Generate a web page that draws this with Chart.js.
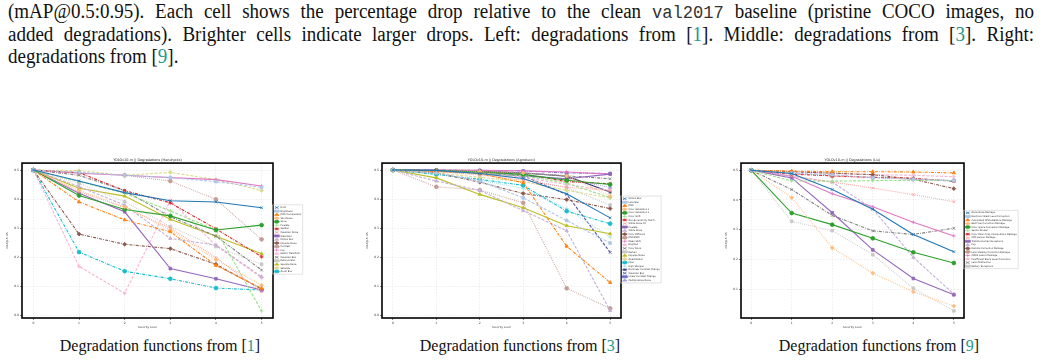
<!DOCTYPE html>
<html>
<head>
<meta charset="utf-8">
<script src="https://cdn.jsdelivr.net/npm/chart.js@4.4.1/dist/chart.umd.min.js"></script>
<style>
  body { margin: 0; width: 1041px; height: 360px; background: #fff; position: relative; overflow: hidden;
         font-family: "Liberation Serif", "Times New Roman", serif; color: #111; }
  .ln { position: absolute; left: 8px; width: 1080px; font-size: 20px; line-height: 22.5px;
        text-align: justify; text-align-last: justify; transform: scaleX(0.95); transform-origin: 0 0; }
  .ln.last { text-align-last: left; }
  .tt { font-family: "Liberation Mono", "DejaVu Sans Mono", monospace; font-size: 18px; color: #333; }
  .ref { color: #23998a; }
  .cap { position: absolute; top: 337px; width: 300px; margin-left: -150px; text-align: center;
         font-size: 16px; line-height: 18px; }
  .fig { position: absolute; top: 150px; }
</style>
</head>
<body>
<div class="ln" style="top:0px">(mAP@0.5:0.95). Each cell shows the percentage drop relative to the clean <span class="tt">val2017</span> baseline (pristine COCO images, no</div>
<div class="ln" style="top:22.5px">added degradations). Brighter cells indicate larger drops. Left: degradations from [<span class="ref">1</span>]. Middle: degradations from [<span class="ref">3</span>]. Right:</div>
<div class="ln last" style="top:45px">degradations from [<span class="ref">9</span>].</div>

<div class="fig" style="left:6px"><canvas id="hendrycks" width="305" height="180"></canvas></div>
<div class="fig" style="left:366px"><canvas id="agnolucci" width="315" height="180"></canvas></div>
<div class="fig" style="left:725px"><canvas id="liu" width="316" height="180"></canvas></div>

<div class="cap" style="left:160px">Degradation functions from [<span class="ref">1</span>]</div>
<div class="cap" style="left:520px">Degradation functions from [<span class="ref">3</span>]</div>
<div class="cap" style="left:879px">Degradation functions from [<span class="ref">9</span>]</div>

<script>
// severity levels on the x axis
const severity = [0, 1, 2, 3, 4, 5]
const yTicksFull = [0.0, 0.1, 0.2, 0.3, 0.4, 0.5]
const yTicksLiu = [0.1, 0.2, 0.3, 0.4, 0.5]

// degradations from Hendrycks
const hendrycksNames = ['Frost', 'Brightness', 'JPEG Compression', 'Shot Noise', 'Snow', 'Pixelate', 'Spatter',
  'Gaussian Noise', 'Glass Blur', 'Motion Blur', 'Impulse Noise', 'Contrast', 'Fog', 'Elastic Transform',
  'Gaussian Blur', 'Defocus Blur', 'Speckle Noise', 'Saturate', 'Zoom Blur']
const hendrycksValues = [
  [0.5, 0.462, 0.422, 0.394, 0.390, 0.370],
  [0.5, 0.492, 0.482, 0.474, 0.460, 0.440],
  [0.5, 0.390, 0.328, 0.287, 0.171, 0.092],
  [0.5, 0.430, 0.373, 0.293, 0.190, 0.103],
  [0.5, 0.412, 0.364, 0.342, 0.293, 0.310],
  [0.5, 0.460, 0.420, 0.359, 0.293, 0.014],
  [0.5, 0.491, 0.429, 0.387, 0.297, 0.201],
  [0.5, 0.425, 0.371, 0.300, 0.198, 0.080],
  [0.5, 0.420, 0.356, 0.160, 0.125, 0.086],
  [0.5, 0.443, 0.379, 0.264, 0.241, 0.132],
  [0.5, 0.279, 0.244, 0.229, 0.175, 0.089],
  [0.5, 0.490, 0.482, 0.462, 0.399, 0.261],
  [0.5, 0.489, 0.482, 0.474, 0.467, 0.445],
  [0.5, 0.168, 0.075, 0.395, 0.240, 0.128],
  [0.5, 0.482, 0.429, 0.339, 0.272, 0.155],
  [0.5, 0.454, 0.391, 0.305, 0.236, 0.175],
  [0.5, 0.437, 0.410, 0.330, 0.272, 0.211],
  [0.5, 0.498, 0.482, 0.492, 0.467, 0.429],
  [0.5, 0.217, 0.151, 0.125, 0.093, 0.086]
]

// degradations from Agnolucci
const agnolucciNames = ['Motion Blur', 'Lens Blur', 'JPEG', 'Color Saturation 1', 'Color Saturation 2', 'Color Shift',
  'Non-Eccentricity Patch', 'White Noise CC', 'Pixelate', 'White Noise', 'Color Diffusion', 'JPEG2000', 'Mean Shift',
  'Brighten', 'Color Block', 'Darken', 'Impulse Noise', 'Quantization', 'Jitter', 'High Sharpen',
  'Nonlinear Contrast Change', 'Gaussian Blur', 'Linear Contrast Change', 'Multiplicative Noise']
const agnolucciValues = [
  [0.5, 0.499, 0.488, 0.471, 0.418, 0.335],
  [0.5, 0.490, 0.462, 0.404, 0.326, 0.248],
  [0.5, 0.495, 0.488, 0.456, 0.237, 0.112],
  [0.5, 0.498, 0.495, 0.490, 0.480, 0.410],
  [0.5, 0.498, 0.494, 0.485, 0.465, 0.450],
  [0.5, 0.497, 0.490, 0.480, 0.455, 0.405],
  [0.5, 0.498, 0.494, 0.486, 0.460, 0.453],
  [0.5, 0.495, 0.483, 0.465, 0.440, 0.430],
  [0.5, 0.497, 0.490, 0.480, 0.470, 0.486],
  [0.5, 0.462, 0.430, 0.360, 0.291, 0.015],
  [0.5, 0.490, 0.458, 0.419, 0.398, 0.367],
  [0.5, 0.442, 0.431, 0.387, 0.092, 0.023],
  [0.5, 0.500, 0.499, 0.497, 0.493, 0.486],
  [0.5, 0.496, 0.490, 0.475, 0.450, 0.430],
  [0.5, 0.499, 0.497, 0.490, 0.480, 0.470],
  [0.5, 0.495, 0.485, 0.470, 0.440, 0.379],
  [0.5, 0.473, 0.416, 0.370, 0.308, 0.280],
  [0.5, 0.490, 0.475, 0.460, 0.430, 0.404],
  [0.5, 0.485, 0.468, 0.447, 0.358, 0.315],
  [0.5, 0.485, 0.465, 0.437, 0.367, 0.269],
  [0.5, 0.499, 0.496, 0.490, 0.479, 0.424],
  [0.5, 0.498, 0.494, 0.480, 0.416, 0.216],
  [0.5, 0.500, 0.499, 0.497, 0.490, 0.488],
  [0.5, 0.497, 0.490, 0.480, 0.470, 0.440]
]

// degradations from Liu
const liuNames = ['Noise Node Damage', 'Electronic Black Level Corruption', 'Automated White Balance Damage',
  'Bad Pixel Correction Damage', 'Color Space Conversion Damage', 'Sensor Broken',
  'Color Filter Array Interpolation Damage', 'CCD Sensor Damage', 'Transfer Human Exceptions', 'Fog',
  'Gamma Correction Damage', 'Lens Shading Correction Damage', 'CMOS Sensor Damage',
  'Insufficient Black Level Correction', 'Lens Obstruction', 'Battery Exceptions']
const liuValues = [
  [0.5, 0.489, 0.435, 0.369, 0.284, 0.226],
  [0.5, 0.490, 0.485, 0.475, 0.470, 0.465],
  [0.5, 0.497, 0.495, 0.495, 0.494, 0.491],
  [0.5, 0.408, 0.239, 0.154, 0.091, 0.043],
  [0.5, 0.356, 0.317, 0.271, 0.224, 0.188],
  [0.5, 0.464, 0.463, 0.465, 0.466, 0.465],
  [0.5, 0.487, 0.481, 0.476, 0.473, 0.463],
  [0.5, 0.480, 0.460, 0.440, 0.418, 0.394],
  [0.5, 0.474, 0.357, 0.232, 0.136, 0.081],
  [0.5, 0.480, 0.460, 0.370, 0.207, 0.083],
  [0.5, 0.495, 0.490, 0.485, 0.470, 0.438],
  [0.5, 0.490, 0.480, 0.475, 0.470, 0.465],
  [0.5, 0.480, 0.421, 0.377, 0.325, 0.279],
  [0.5, 0.495, 0.490, 0.485, 0.483, 0.478],
  [0.5, 0.435, 0.348, 0.296, 0.284, 0.305],
  [0.5, 0.328, 0.297, 0.216, 0.103, 0.027]
]

const tab20 = ['#1f77b4', '#aec7e8', '#ff7f0e', '#ffbb78', '#2ca02c', '#98df8a', '#d62728', '#ff9896',
  '#9467bd', '#c5b0d5', '#8c564b', '#c49c94', '#e377c2', '#f7b6d2', '#7f7f7f', '#c7c7c7',
  '#bcbd22', '#dbdb8d', '#17becf', '#9edae5', '#393b79', '#5254a3', '#6b6ecf', '#9c9ede']
const dashes = [[], [3, 1.5], [3, 1.2, 0.8, 1.2], [0.8, 1.2]]
const markers = ['crossRot', 'rect', 'triangle', 'rectRot', 'circle', 'cross', 'star']

const chartFont = 'DejaVu Sans'

// axes frame and legend frame like matplotlib
const framePlugin = {
  id: 'frame',
  afterDatasetsDraw(chart) {
    const a = chart.chartArea
    const ctx = chart.ctx
    ctx.save()
    ctx.strokeStyle = '#000'
    ctx.lineWidth = 1.6
    ctx.strokeRect(a.left, a.top, a.right - a.left, a.bottom - a.top)
    ctx.restore()
  },
  afterDraw(chart) {
    const boxes = chart.legend.legendHitBoxes
    if (!boxes || !boxes.length) return
    let l = Infinity, t = Infinity, r = -Infinity, b = -Infinity
    boxes.forEach(h => {
      l = Math.min(l, h.left); t = Math.min(t, h.top)
      r = Math.max(r, h.left + h.width); b = Math.max(b, h.top + h.height)
    })
    const ctx = chart.ctx
    ctx.save()
    ctx.strokeStyle = '#cfcfcf'
    ctx.lineWidth = 0.6
    ctx.strokeRect(l - 1.5, t - 1.5, r - l + 3, b - t + 3)
    ctx.restore()
  }
}

function makeChart(id, title, names, values, yMin, yTicks, frameRight) {
  const canvas = document.getElementById(id)
  const datasets = names.map((name, i) => ({
    label: name,
    data: severity.map((s, k) => ({ x: s, y: values[i][k] })),
    borderColor: tab20[i],
    backgroundColor: tab20[i],
    borderWidth: 1.1,
    borderDash: dashes[i % dashes.length],
    pointStyle: markers[i % markers.length],
    pointRadius: 1.9,
    pointBorderWidth: 0.8,
    tension: 0
  }))

  const config = {
    type: 'line',
    data: { datasets: datasets },
    options: {
      responsive: false,
      animation: false,
      devicePixelRatio: 1,
      layout: { padding: { left: 0, right: 0, top: 0, bottom: 1 } },
      plugins: {
        title: {
          display: true, text: title, fullSize: false, color: '#222',
          font: { family: chartFont, size: 3.4, weight: 'normal' },
          padding: { top: 8, bottom: 1 }
        },
        legend: {
          position: 'right',
          labels: {
            font: { family: chartFont, size: 2.3 }, color: '#333',
            usePointStyle: true, pointStyleWidth: 5, boxWidth: 5, boxHeight: 2, padding: 1.25
          }
        },
        tooltip: { enabled: false }
      },
      scales: {
        x: {
          type: 'linear', min: -0.25, max: 5.25,
          afterBuildTicks: s => { s.ticks = severity.map(v => ({ value: v })) },
          afterFit: s => { s.height = 11 },
          grid: { color: '#e2e2e2', lineWidth: 0.6, tickLength: 2, tickColor: '#333', tickWidth: 0.6 },
          border: { display: false, dash: [1.5, 1.5] },
          ticks: { font: { family: chartFont, size: 3 }, color: '#333', padding: 1, maxRotation: 0 },
          title: { display: true, text: 'Severity Level', font: { family: chartFont, size: 2.7 }, color: '#333', padding: 0 }
        },
        y: {
          type: 'linear', min: yMin, max: 0.524,
          afterBuildTicks: s => { s.ticks = yTicks.map(v => ({ value: v })) },
          afterFit: s => { s.width = 16 },
          grid: { color: '#e2e2e2', lineWidth: 0.6, tickLength: 2, tickColor: '#333', tickWidth: 0.6 },
          border: { display: false, dash: [1.5, 1.5] },
          ticks: { font: { family: chartFont, size: 3 }, color: '#333', padding: 1, callback: v => v.toFixed(1) },
          title: { display: true, text: 'mAP@.5:.95', font: { family: chartFont, size: 2.7 }, color: '#333', padding: 0 }
        }
      }
    },
    plugins: [framePlugin]
  }

  const chart = new Chart(canvas, config)
  // put the right spine where the reference has it, legend follows after it
  chart.options.layout.padding.right = canvas.width - frameRight - chart.legend.width
  chart.update()
  return chart
}

makeChart('hendrycks', 'YOLOv10-m || Degradations (Hendrycks)', hendrycksNames, hendrycksValues, -0.0103, yTicksFull, 267)
makeChart('agnolucci', 'YOLOv10-m || Degradations (Agnolucci)', agnolucciNames, agnolucciValues, -0.0103, yTicksFull, 255)
makeChart('liu', 'YOLOv10-m || Degradations (Liu)', liuNames, liuValues, 0.003, yTicksLiu, 239)
</script>
</body>
</html>
